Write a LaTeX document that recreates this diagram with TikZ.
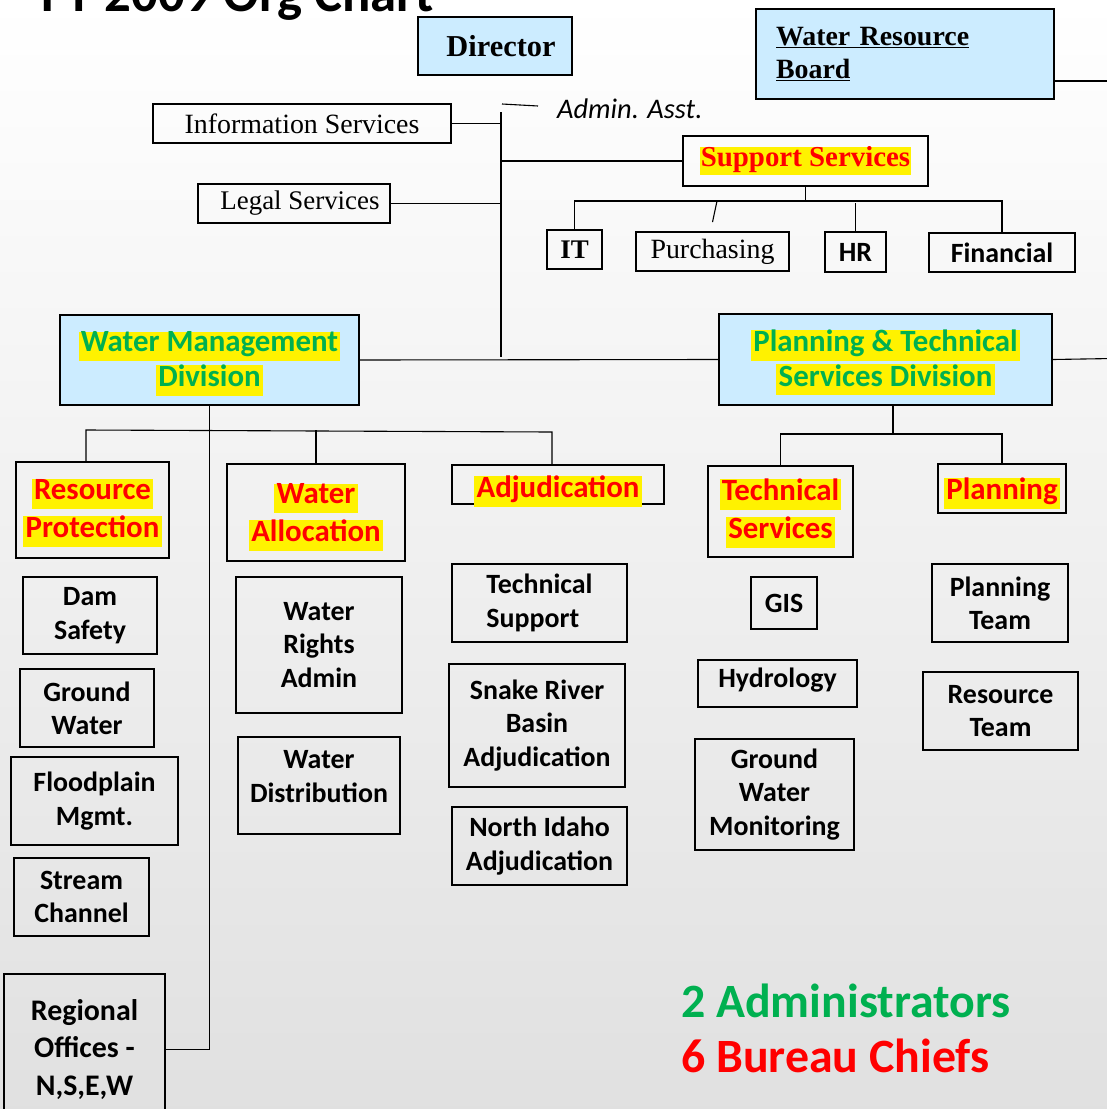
\documentclass[tikz,border=0pt]{standalone}
\usepackage{fontspec}
\setmainfont{Liberation Serif}
\newfontfamily\calib{Carlito}
\definecolor{lblue}{HTML}{CCECFF}
\definecolor{grn}{HTML}{00B050}
\definecolor{rd}{HTML}{FF0000}
\newcommand\hl[1]{{\setlength{\fboxsep}{0pt}\colorbox{yellow}{\rule[-0.3em]{0pt}{0.93em}\hspace{0.07em}#1\hspace{0.07em}}}}
\newcommand\hls[1]{{\setlength{\fboxsep}{0pt}\colorbox{yellow}{\rule[-0.3em]{0pt}{0.85em}\hspace{0.02em}#1\hspace{0.02em}}}}
\newcommand\dn[2]{\raisebox{-#1}[\height][\depth]{#2}}
\newcommand\tightlines{\setlength{\lineskip}{0pt}\setlength{\lineskiplimit}{-100pt}}
\begin{document}
\begin{tikzpicture}[x=1bp,y=-1bp,
  sz/.style 2 args={minimum width=#1bp, minimum height=#2bp},
  box/.style={draw=black, line width=1.8bp, inner sep=0pt, align=center},
  conn/.style={draw=black, line width=1.1bp},
  div/.style={box, fill=lblue, text=grn, font=\calib\bfseries\fontsize{31}{35}\selectfont\tightlines},
  bur/.style={box, text=rd, font=\calib\bfseries\fontsize{31}{38}\selectfont\tightlines},
  unit/.style={box, font=\calib\bfseries\fontsize{28}{33.5}\selectfont}]
\useasboundingbox (0,0) rectangle (1107,1109);
\shade[top color=white, middle color=black!4, bottom color=black!12] (0,0) rectangle (1107,1109);

% title and free texts
\node[anchor=base west, inner sep=0pt, font=\calib\bfseries\fontsize{53}{60}\selectfont] (title) at (41,11) {FY 2009 Org Chart};
\node[anchor=base west, inner sep=0pt, font=\calib\itshape\fontsize{28.5}{33}\selectfont] (adm) at (557,118) {Admin. Asst.};
\node[anchor=base west, inner sep=0pt, text=grn, font=\calib\bfseries\fontsize{48}{56}\selectfont] (admins) at (681,1017) {2 Administrators};
\node[anchor=base west, inner sep=0pt, text=rd, font=\calib\bfseries\fontsize{48}{56}\selectfont] (chiefs) at (681,1072) {6 Bureau Chiefs};

% top level
\node[box, fill=lblue, sz={154}{58}, font=\bfseries\fontsize{30.5}{36}\selectfont] (dir) at (495,46) {\hspace*{12bp}Director};
\node[box, fill=lblue, sz={298}{90}, text width=258bp, align=left, font=\bfseries\fontsize{28}{33}\selectfont] (wrb) at (905,54) {\underline{Water Resource}\\\underline{Board}};
\node[box, sz={298}{39}, font=\fontsize{28}{33}\selectfont] (info) at (302,123.5) {Information Services};
\node[box, sz={192}{39}, font=\fontsize{27}{33}\selectfont] (legal) at (294,203.5) {\hspace*{12bp}Legal Services};
\node[box, sz={245}{50}, text=rd, font=\bfseries\fontsize{29}{33}\selectfont] (sup) at (805.5,161) {\hls{Support Services}};
\node[box, sz={55}{39}, font=\bfseries\fontsize{27}{33}\selectfont] (it) at (574.5,249.5) {IT};
\node[box, sz={153}{39}, font=\fontsize{28}{33}\selectfont] (pur) at (712.5,251.5) {Purchasing};
\node[box, sz={61}{40}, font=\calib\bfseries\fontsize{28}{33}\selectfont] (hr) at (855.5,252) {HR};
\node[box, sz={146}{39}, font=\calib\bfseries\fontsize{28}{33}\selectfont] (fin) at (1002,252.5) {Financial};

% divisions
\node[div, sz={299}{90}] (wmd) at (209.5,360) {\dn{4bp}{\hl{Water Management}}\\\dn{4bp}{\hl{Division}}};
\node[div, sz={333}{91}] (ptsd) at (885.5,359.5) {\dn{3bp}{\hl{Planning \& Technical}}\\\dn{3bp}{\hl{Services Division}}};

% bureaus
\node[bur, sz={153}{96}] (rp) at (92.5,510) {\dn{3bp}{\hl{Resource}}\\\dn{3bp}{\hl{Protection}}};
\node[bur, sz={178}{97}] (wa) at (316,512.5) {\dn{5bp}{\hl{Water}}\\\dn{5bp}{\hl{Allocation}}};
\node[bur, sz={212}{39}] (adj) at (558,484.5) {\dn{7bp}{\hl{Adjudication}}};
\node[bur, sz={145}{91}] (ts) at (780.5,511.5) {\dn{2bp}{\hl{Technical}}\\\dn{2bp}{\hl{Services}}};
\node[bur, sz={128}{49}] (plan) at (1002,488.5) {\dn{5bp}{\hl{Planning}}};

% units
\node[unit, sz={134}{77}] (dam) at (90,615.5) {Dam\\Safety};
\node[unit, sz={134}{78}] (gw) at (87,708) {Ground\\Water};
\node[unit, sz={167}{88}] (flood) at (94.5,801) {Floodplain\\Mgmt.};
\node[unit, sz={135}{78}] (stream) at (81.5,897) {Stream\\Channel};
\node[unit, sz={161}{151}, font=\calib\bfseries\fontsize{30}{38}\selectfont] (reg) at (84.5,1049.5) {Regional\\Offices -\\N,S,E,W};
\node[unit, sz={166}{136}] (wra) at (319,645) {Water\\Rights\\Admin};
\node[unit, sz={162}{97}] (wd) at (319,785.5) {Water\\Distribution\\[-15bp]\mbox{}};
\node[unit, sz={175}{78}, align=left] (tsup) at (539.5,603) {Technical\\Support};
\node[unit, sz={176}{123}] (snake) at (537,725.5) {Snake River\\Basin\\Adjudication};
\node[unit, sz={175}{78}] (nid) at (539.5,846) {North Idaho\\Adjudication};
\node[unit, sz={66}{52}] (gis) at (784,603) {GIS};
\node[unit, sz={159}{47}, text depth=12bp] (hyd) at (777.5,683.5) {Hydrology};
\node[unit, sz={159}{111}] (gwm) at (774.5,794.5) {Ground\\Water\\Monitoring};
\node[unit, sz={136}{78}] (pt) at (1000,603) {Planning\\Team};
\node[unit, sz={155}{78}] (rt) at (1000.5,711) {Resource\\Team};

% connectors
\coordinate (tTop) at (501,112);
\coordinate (tBot) at (501,357);
\draw[conn] (tTop) -- (tBot);
\coordinate (aa1) at (502,104);
\coordinate (aa2) at (538,106);
\draw[conn] (aa1) -- (aa2);
\draw[conn] (info.east) -- (info.east -| tTop);
\draw[conn] (legal.east) -- (legal.east -| tTop);
\draw[conn] (sup.west -| tTop) -- (sup.west);
\draw[conn] ([yshift=-27bp]wrb.east) -- ++(60,0);
\draw[conn] (wmd.east) -- (ptsd.west);
\draw[conn] (ptsd.east) -- ++(60,-1);

\coordinate (sb) at (806,201);
\draw[conn] (sup.south) -- (sup.south |- sb);
\draw[conn] (it.north) -- (it.north |- sb) -- (fin.north |- sb) -- (fin.north);
\draw[conn] ([xshift=4.5bp]pur.north |- sb) -- ([yshift=9bp]pur.north);
\draw[conn] ([yshift=28bp]hr.north) -- (hr.north);

\coordinate (wbL) at (86,430);
\coordinate (wbR) at (552,432);
\draw[conn] (wmd.south) -- (wmd.south |- reg.east) -- (reg.east);
\draw[conn] (rp.north -| wbL) -- (wbL) -- (wbR) -- (adj.north -| wbR);
\draw[conn] (wa.north) -- (wa.north |- wbL);

\coordinate (pb) at (893,434);
\draw[conn] (ptsd.south -| pb) -- (pb);
\draw[conn] (ts.north) -- (ts.north |- pb) -- (plan.north |- pb) -- (plan.north);
\end{tikzpicture}
\end{document}
